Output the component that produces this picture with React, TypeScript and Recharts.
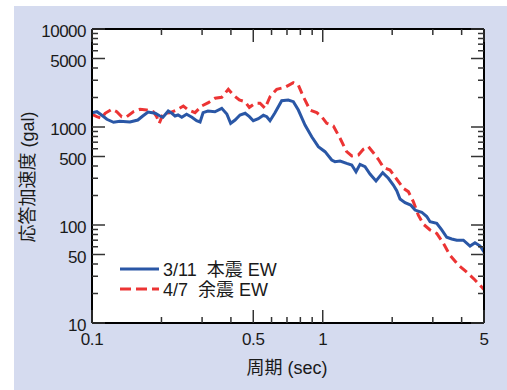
import React from 'react';
import { LineChart, Line, XAxis, YAxis, Label } from 'recharts';

// 3/11 main shock EW (period sec, response acceleration gal)
const periodsMain = [0.1, 0.105, 0.11, 0.116, 0.124, 0.132, 0.146, 0.158, 0.166, 0.175, 0.188, 0.197, 0.203, 0.214, 0.222, 0.229, 0.236, 0.245, 0.257, 0.271, 0.284, 0.294, 0.303, 0.318, 0.341, 0.365, 0.384, 0.399, 0.417, 0.438, 0.461, 0.481, 0.5, 0.526, 0.553, 0.572, 0.591, 0.621, 0.664, 0.709, 0.746, 0.784, 0.838, 0.896, 0.957, 1.023, 1.094, 1.13, 1.189, 1.27, 1.336, 1.394, 1.451, 1.525, 1.603, 1.702, 1.82, 1.925, 2.023, 2.093, 2.163, 2.274, 2.406, 2.512, 2.686, 2.824, 2.918, 3.12, 3.28, 3.447, 3.624, 3.81, 4.07, 4.35, 4.57, 4.81, 5.0];
const accelMain = [1400, 1432, 1326, 1199, 1117, 1143, 1125, 1178, 1294, 1422, 1380, 1294, 1256, 1456, 1380, 1294, 1326, 1256, 1349, 1256, 1159, 1125, 1400, 1456, 1432, 1552, 1358, 1091, 1178, 1326, 1380, 1274, 1159, 1215, 1317, 1274, 1159, 1400, 1855, 1886, 1813, 1490, 1048, 796, 630, 560, 460, 443, 450, 426, 410, 350, 416, 394, 331, 281, 342, 300, 256, 224, 184, 169, 160, 142, 135, 122, 108, 104, 89, 75, 72, 70, 70, 61, 66, 61, 53];

// 4/7 aftershock EW
const periodsAfter = [0.1, 0.105, 0.11, 0.114, 0.122, 0.128, 0.1345, 0.1414, 0.151, 0.1615, 0.1726, 0.1844, 0.1907, 0.1957, 0.2037, 0.2178, 0.2329, 0.2488, 0.2615, 0.2796, 0.2989, 0.3193, 0.3413, 0.3649, 0.3897, 0.4097, 0.435, 0.4605, 0.4806, 0.5087, 0.5348, 0.5623, 0.5911, 0.632, 0.6865, 0.7458, 0.7838, 0.824, 0.881, 0.942, 0.99, 1.041, 1.112, 1.189, 1.27, 1.336, 1.427, 1.5, 1.577, 1.657, 1.742, 1.831, 1.958, 2.093, 2.236, 2.35, 2.47, 2.596, 2.729, 2.918, 3.12, 3.333, 3.564, 3.87, 4.21, 4.57, 5.0];
const accelAfter = [1349, 1274, 1227, 1380, 1516, 1432, 1274, 1274, 1432, 1516, 1490, 1432, 1274, 1091, 1380, 1400, 1490, 1638, 1490, 1400, 1638, 1771, 1963, 2009, 2425, 2122, 1886, 1813, 1588, 1746, 1746, 1552, 2037, 2425, 2541, 2831, 2683, 2037, 1490, 1400, 1274, 1091, 1023, 767, 560, 506, 518, 592, 630, 547, 468, 388, 364, 293, 237, 219, 173, 126, 102, 89, 82, 65, 49, 39, 33, 27.5, 22];

const xTicks = [0.1, 0.2, 0.3, 0.4, 0.5, 0.6, 0.7, 0.8, 0.9, 1, 2, 3, 4, 5];
const xLabels = [0.1, 0.5, 1, 5];
const yTicks = [10, 20, 30, 40, 50, 60, 70, 80, 90, 100, 200, 300, 400, 500, 600, 700, 800, 900, 1000, 2000, 3000, 4000, 5000, 6000, 7000, 8000, 9000, 10000];
const yLabels = [10, 50, 100, 500, 1000, 5000, 10000];

const seriesMain = periodsMain.map((t, i) => ({ t, a: accelMain[i] }));
const seriesAfter = periodsAfter.map((t, i) => ({ t, a: accelAfter[i] }));

const FONT = '"Liberation Sans", Arial, "Noto Sans CJK JP", sans-serif';
const BLUE = '#2a57a6';
const RED = '#ec3434';
const TICK = '#333';

const BottomTick = (p: any) => {
  const { x, y, payload } = p;
  const major = xLabels.includes(payload.value);
  return (
    <g>
      <line x1={x} x2={x} y1={y} y2={y - (major ? 13 : 6)} stroke={TICK} strokeWidth={1.5} />
      {major && (
        <text x={x} y={y + 22} textAnchor="middle" fontSize={17} fill="#1a1a1a" fontFamily={FONT} letterSpacing={-0.3}>
          {payload.value}
        </text>
      )}
    </g>
  );
};

const TopTick = (p: any) => {
  const { x, y, payload } = p;
  const major = xLabels.includes(payload.value);
  return <line x1={x} x2={x} y1={y} y2={y + (major ? 13 : 6)} stroke={TICK} strokeWidth={1.5} />;
};

const LeftTick = (p: any) => {
  const { x, y, payload } = p;
  const major = yLabels.includes(payload.value);
  return (
    <g>
      <line x1={x} x2={x + (major ? 13 : 6)} y1={y} y2={y} stroke={TICK} strokeWidth={1.5} />
      {major && (
        <text x={x - 6} y={y + 8} textAnchor="end" fontSize={17} fill="#1a1a1a" fontFamily={FONT} letterSpacing={-0.5}>
          {payload.value}
        </text>
      )}
    </g>
  );
};

const RightTick = (p: any) => {
  const { x, y, payload } = p;
  const major = yLabels.includes(payload.value);
  return <line x1={x} x2={x - (major ? 13 : 6)} y1={y} y2={y} stroke={TICK} strokeWidth={1.5} />;
};

const LegendBox = () => (
  <svg width={190} height={44} style={{ display: 'block' }}>
    <line x1={0} x2={39} y1={11} y2={11} stroke={BLUE} strokeWidth={3} />
    <text x={43} y={17.5} fontSize={18} fill="#1a1a1a" fontFamily={FONT} style={{ whiteSpace: 'pre' }}>
      {'3/11  本震 EW'}
    </text>
    <line x1={0} x2={39} y1={31} y2={31} stroke={RED} strokeWidth={3} strokeDasharray="11 5" />
    <text x={43} y={37.5} fontSize={18} fill="#1a1a1a" fontFamily={FONT} style={{ whiteSpace: 'pre' }}>
      {'4/7  余震 EW'}
    </text>
  </svg>
);

const axisLine = { stroke: '#000', strokeWidth: 2 };

export default function App() {
  return (
    <div style={{ position: 'absolute', left: 0, top: 0, width: 507, height: 390, background: '#fff', overflow: 'hidden' }}>
      <div style={{ position: 'absolute', left: 14, top: 6, width: 493, height: 384, background: '#d5dbef' }} />
      <div style={{ position: 'absolute', left: 92, top: 29, width: 392, height: 294, background: '#fff' }} />
      <div style={{ position: 'absolute', left: 0, top: 0 }}>
        <LineChart width={507} height={390} margin={{ top: 19, right: 13, bottom: 27, left: 32 }}>
          <XAxis
            xAxisId="b"
            dataKey="t"
            type="number"
            scale="log"
            domain={[0.1, 5]}
            allowDataOverflow
            ticks={xTicks}
            interval={0}
            tick={<BottomTick />}
            tickLine={false}
            tickSize={0}
            tickMargin={0}
            axisLine={axisLine}
            height={40}
          >
            <Label
              content={() => (
                <text x={287} y={374} textAnchor="middle" fontSize={18} fill="#1a1a1a" fontFamily={FONT}>
                  周期 (sec)
                </text>
              )}
            />
          </XAxis>
          <XAxis
            xAxisId="top"
            orientation="top"
            dataKey="t"
            type="number"
            scale="log"
            domain={[0.1, 5]}
            allowDataOverflow
            ticks={xTicks}
            interval={0}
            tick={<TopTick />}
            tickLine={false}
            tickSize={0}
            tickMargin={0}
            axisLine={axisLine}
            height={10}
          />
          <YAxis
            yAxisId="l"
            dataKey="a"
            type="number"
            scale="log"
            domain={[10, 10000]}
            allowDataOverflow
            ticks={yTicks}
            interval={0}
            tick={<LeftTick />}
            tickLine={false}
            tickSize={0}
            tickMargin={0}
            axisLine={axisLine}
            width={60}
          >
            <Label
              content={() => (
                <text
                  x={34}
                  y={177}
                  transform="rotate(-90 34 177)"
                  textAnchor="middle"
                  fontSize={18}
                  fill="#1a1a1a"
                  fontFamily={FONT}
                >
                  応答加速度 (gal)
                </text>
              )}
            />
          </YAxis>
          <YAxis
            yAxisId="r"
            orientation="right"
            type="number"
            scale="log"
            domain={[10, 10000]}
            allowDataOverflow
            ticks={yTicks}
            interval={0}
            tick={<RightTick />}
            tickLine={false}
            tickSize={0}
            tickMargin={0}
            axisLine={axisLine}
            width={10}
          />
          <Line
            xAxisId="b"
            yAxisId="l"
            data={seriesAfter}
            dataKey="a"
            name="4/7 余震 EW"
            stroke={RED}
            strokeWidth={3}
            strokeDasharray="9 5"
            dot={false}
            type="linear"
            isAnimationActive={false}
          />
          <Line
            xAxisId="b"
            yAxisId="l"
            data={seriesMain}
            dataKey="a"
            name="3/11 本震 EW"
            stroke={BLUE}
            strokeWidth={3}
            dot={false}
            type="linear"
            isAnimationActive={false}
          />
        </LineChart>
      </div>
      <div style={{ position: 'absolute', left: 120, top: 258 }}>
        <LegendBox />
      </div>
    </div>
  );
}
